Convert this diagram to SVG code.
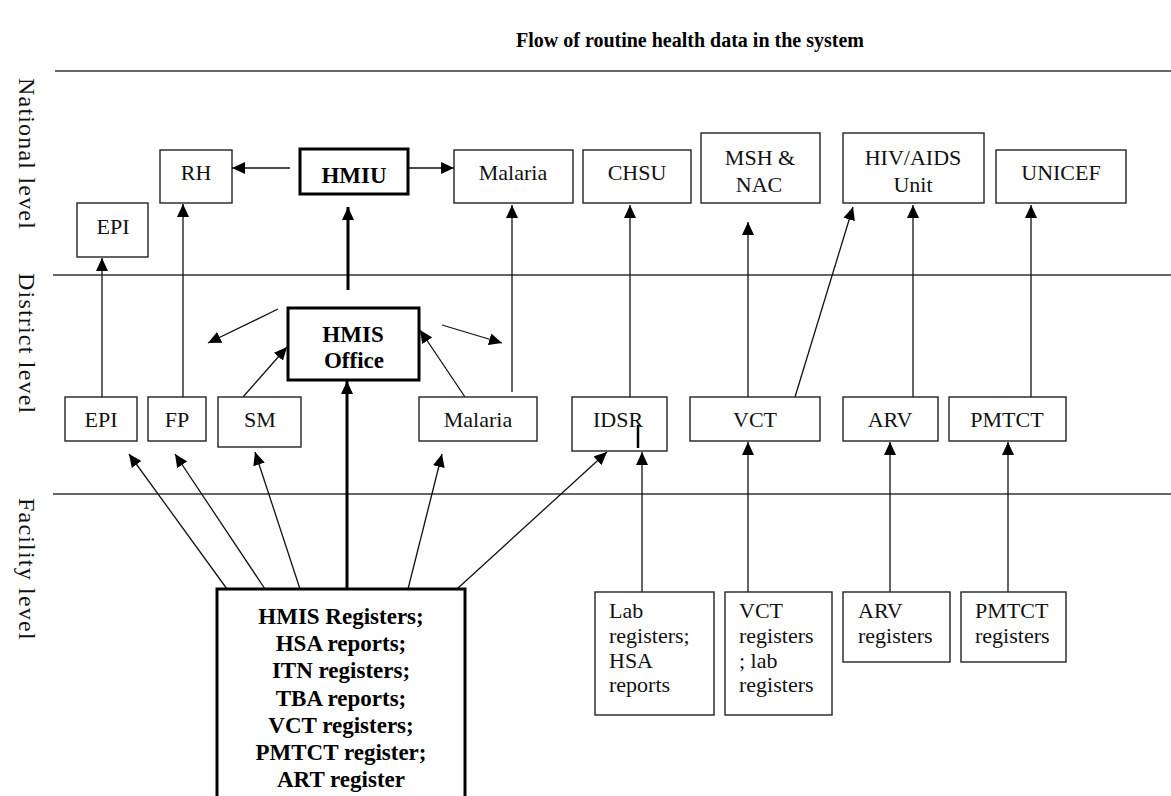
<svg xmlns="http://www.w3.org/2000/svg" width="1171" height="796" viewBox="0 0 1171 796">
  <defs>
    <marker id="arrow" markerUnits="userSpaceOnUse" markerWidth="13" markerHeight="12" refX="13" refY="6" orient="auto">
      <path d="M0,0 L13,6 L0,12 z" fill="#000"/>
    </marker>
    <style>
      .box { fill: #fff; stroke: #222; stroke-width: 1.4; }
      .boxb { fill: #fff; stroke: #000; stroke-width: 3; }
      .lbl { font-family: "Liberation Serif", "Times New Roman", serif; font-size: 22px; fill: #111; text-anchor: middle; }
      .lbll { font-family: "Liberation Serif", "Times New Roman", serif; font-size: 22px; fill: #111; }
      .lblb { font-family: "Liberation Serif", "Times New Roman", serif; font-size: 23px; font-weight: bold; fill: #000; text-anchor: middle; }
      .side { font-family: "Liberation Serif", "Times New Roman", serif; font-size: 24px; fill: #111; letter-spacing: 1.2px; }
      .tier { stroke: #333; stroke-width: 1.6; }
      .c { stroke: #111; stroke-width: 1.3; fill: none; marker-end: url(#arrow); }
      .ct { stroke: #000; stroke-width: 3; fill: none; marker-end: url(#arrow); }
    </style>
  </defs>
  <rect width="1171" height="796" fill="#fff"/>

  <!-- title -->
  <text x="690" y="47" font-family="Liberation Serif, Times New Roman, serif" font-size="20" font-weight="bold" text-anchor="middle">Flow of routine health data in the system</text>

  <!-- tier separators and tier names -->
  <g id="tiers">
    <line class="tier" x1="55" y1="71" x2="1171" y2="71"/>
    <line class="tier" x1="53" y1="275" x2="1171" y2="275"/>
    <line class="tier" x1="53" y1="494" x2="1171" y2="494"/>
    <text class="side" transform="translate(19,78) rotate(90)">National level</text>
    <text class="side" transform="translate(19,273) rotate(90)">District level</text>
    <text class="side" transform="translate(19,498) rotate(90)">Facility level</text>
  </g>

  <!-- connectors -->
  <g id="connectors">
    <!-- national level -->
    <line class="c" x1="290" y1="168" x2="232" y2="168"/>
    <line class="c" x1="408" y1="168" x2="454" y2="168"/>
    <line class="ct" x1="348" y1="290" x2="348" y2="207"/>
    <line class="c" x1="102" y1="397" x2="102" y2="258"/>
    <line class="c" x1="183" y1="397" x2="183" y2="204"/>
    <line class="c" x1="512" y1="392" x2="512" y2="205"/>
    <line class="c" x1="630" y1="397" x2="630" y2="205"/>
    <line class="c" x1="748" y1="397" x2="748" y2="222"/>
    <line class="c" x1="795" y1="397" x2="853" y2="207"/>
    <line class="c" x1="913" y1="397" x2="913" y2="205"/>
    <line class="c" x1="1031" y1="397" x2="1031" y2="205"/>
    <!-- district level -->
    <line class="c" x1="243" y1="397" x2="287" y2="347"/>
    <line class="c" x1="465" y1="397" x2="420" y2="330"/>
    <line class="c" x1="278" y1="309" x2="208" y2="343"/>
    <line class="c" x1="442" y1="325" x2="502" y2="343"/>
    <line class="ct" x1="347" y1="589" x2="347" y2="381"/>
    <!-- facility level -->
    <line class="c" x1="227" y1="589" x2="129" y2="454"/>
    <line class="c" x1="265" y1="589" x2="175" y2="454"/>
    <line class="c" x1="300" y1="589" x2="255" y2="452"/>
    <line class="c" x1="408" y1="589" x2="442" y2="454"/>
    <line class="c" x1="457" y1="589" x2="607" y2="452"/>
    <line class="c" x1="642" y1="592" x2="642" y2="452"/>
    <line class="c" x1="748" y1="592" x2="748" y2="442"/>
    <line class="c" x1="890" y1="592" x2="890" y2="442"/>
    <line class="c" x1="1008" y1="592" x2="1008" y2="442"/>
  </g>

  <!-- national level nodes -->
  <g id="n-epi"><rect class="box" x="77" y="203" width="71" height="54"/><text class="lbl" x="113" y="234">EPI</text></g>
  <g id="n-rh"><rect class="box" x="160" y="150" width="72" height="53"/><text class="lbl" x="196" y="180">RH</text></g>
  <g id="n-hmiu"><rect class="boxb" x="300" y="149" width="108" height="45"/><text class="lblb" x="354" y="183">HMIU</text></g>
  <g id="n-malaria"><rect class="box" x="454" y="150" width="119" height="53"/><text class="lbl" x="513" y="180">Malaria</text></g>
  <g id="n-chsu"><rect class="box" x="583" y="150" width="108" height="53"/><text class="lbl" x="637" y="180">CHSU</text></g>
  <g id="n-msh"><rect class="box" x="701" y="133" width="119" height="70"/><text class="lbl" x="760" y="165">MSH &amp;</text><text class="lbl" x="759" y="192">NAC</text></g>
  <g id="n-hiv"><rect class="box" x="843" y="133" width="141" height="70"/><text class="lbl" x="913" y="165">HIV/AIDS</text><text class="lbl" x="913" y="192">Unit</text></g>
  <g id="n-unicef"><rect class="box" x="996" y="150" width="130" height="53"/><text class="lbl" x="1061" y="180">UNICEF</text></g>

  <!-- district level nodes -->
  <g id="d-epi"><rect class="box" x="65" y="397" width="72" height="44"/><text class="lbl" x="101" y="427">EPI</text></g>
  <g id="d-fp"><rect class="box" x="148" y="397" width="58" height="44"/><text class="lbl" x="177" y="427">FP</text></g>
  <g id="d-sm"><rect class="box" x="218" y="397" width="83" height="50"/><text class="lbl" x="260" y="427">SM</text></g>
  <g id="d-hmis"><rect class="boxb" x="288" y="308" width="131" height="72"/><text class="lblb" x="353" y="342">HMIS</text><text class="lblb" x="354" y="368">Office</text></g>
  <g id="d-malaria"><rect class="box" x="419" y="397" width="118" height="44"/><text class="lbl" x="478" y="427">Malaria</text></g>
  <g id="d-idsr"><rect class="box" x="572" y="397" width="95" height="54"/><text class="lbl" x="618" y="427">IDSR</text><line x1="638" y1="425" x2="638" y2="448" stroke="#000" stroke-width="2.5"/></g>
  <g id="d-vct"><rect class="box" x="690" y="397" width="130" height="44"/><text class="lbl" x="755" y="427">VCT</text></g>
  <g id="d-arv"><rect class="box" x="843" y="397" width="95" height="44"/><text class="lbl" x="890" y="427">ARV</text></g>
  <g id="d-pmtct"><rect class="box" x="949" y="397" width="117" height="44"/><text class="lbl" x="1007" y="427">PMTCT</text></g>

  <!-- facility level nodes -->
  <g id="f-hmis">
    <rect class="boxb" x="217" y="589" width="248" height="220"/>
    <text class="lblb" x="341" y="624">HMIS Registers;</text>
    <text class="lblb" x="341" y="651">HSA reports;</text>
    <text class="lblb" x="341" y="678">ITN registers;</text>
    <text class="lblb" x="341" y="706">TBA reports;</text>
    <text class="lblb" x="341" y="733">VCT registers;</text>
    <text class="lblb" x="341" y="760">PMTCT register;</text>
    <text class="lblb" x="341" y="787">ART register</text>
  </g>
  <g id="f-lab">
    <rect class="box" x="595" y="592" width="119" height="123"/>
    <text class="lbll" x="609" y="618">Lab</text>
    <text class="lbll" x="609" y="643">registers;</text>
    <text class="lbll" x="609" y="668">HSA</text>
    <text class="lbll" x="609" y="692">reports</text>
  </g>
  <g id="f-vct">
    <rect class="box" x="725" y="592" width="107" height="123"/>
    <text class="lbll" x="739" y="618">VCT</text>
    <text class="lbll" x="739" y="643">registers</text>
    <text class="lbll" x="739" y="668">; lab</text>
    <text class="lbll" x="739" y="692">registers</text>
  </g>
  <g id="f-arv">
    <rect class="box" x="843" y="592" width="107" height="70"/>
    <text class="lbll" x="858" y="618">ARV</text>
    <text class="lbll" x="858" y="643">registers</text>
  </g>
  <g id="f-pmtct">
    <rect class="box" x="961" y="592" width="105" height="70"/>
    <text class="lbll" x="975" y="618">PMTCT</text>
    <text class="lbll" x="975" y="643">registers</text>
  </g>
</svg>
